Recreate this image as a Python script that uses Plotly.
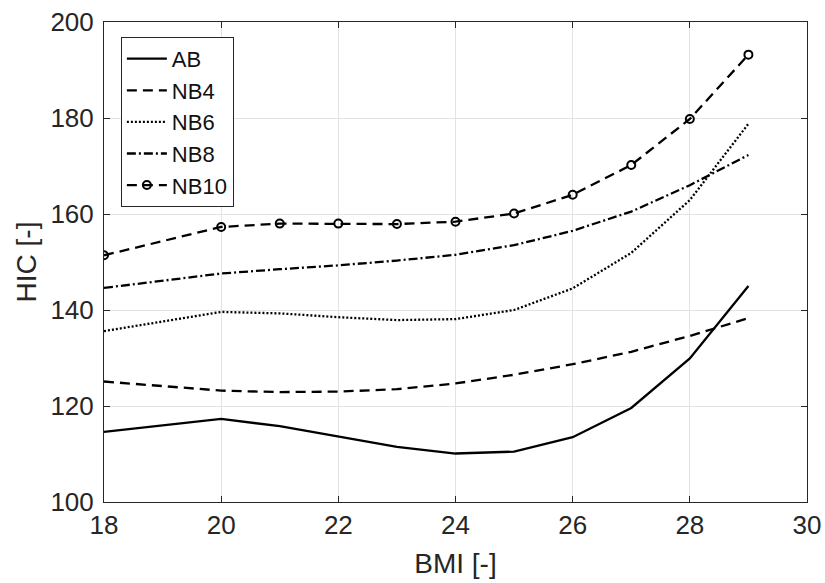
import plotly.graph_objects as go

bmi = [18, 20, 21, 22, 23, 24, 25, 26, 27, 28, 29]
ab = [114.6, 117.3, 115.8, 113.6, 111.5, 110.1, 110.5, 113.5, 119.6, 129.9, 145.0]
nb4 = [125.1, 123.2, 122.9, 123.0, 123.5, 124.7, 126.5, 128.7, 131.3, 134.6, 138.3]
nb6 = [135.6, 139.6, 139.3, 138.5, 137.9, 138.1, 140.0, 144.5, 151.9, 162.9, 178.8]
nb8 = [144.6, 147.6, 148.5, 149.3, 150.3, 151.5, 153.5, 156.5, 160.5, 166.0, 172.3]
nb10 = [151.4, 157.3, 158.0, 158.0, 157.9, 158.4, 160.1, 164.0, 170.2, 179.8, 193.2]

series = [
    ("AB", ab, "solid", False),
    ("NB4", nb4, "10px,6px", False),
    ("NB6", nb6, "2px,2px", False),
    ("NB8", nb8, "9px,3px,2px,3px", False),
    ("NB10", nb10, "10px,6px", True),
]

fig = go.Figure()
for name, vals, dash, mk in series:
    fig.add_trace(go.Scatter(
        x=bmi, y=vals, name=name,
        mode="lines+markers" if mk else "lines",
        line=dict(color="black", width=2.3, dash=dash),
        marker=dict(symbol="circle-open", size=8, color="black", line=dict(width=2, color="black")),
    ))

axis_common = dict(
    showgrid=True, gridcolor="#e3e3e3", gridwidth=1,
    showline=True, linecolor="#262626", linewidth=1, mirror="ticks",
    ticks="inside", ticklen=6, tickcolor="#262626",
    tickfont=dict(size=26, color="#262626"), zeroline=False,
    automargin=False, ticklabeloverflow="allow",
)

fig.update_layout(
    width=825, height=583,
    margin=dict(l=104, r=18, t=22, b=81),
    paper_bgcolor="white", plot_bgcolor="white",
    font=dict(family="Arial, Liberation Sans, sans-serif", color="#262626"),
    xaxis=dict(range=[18, 30], dtick=2, title=dict(text="BMI [-]", font=dict(size=28), standoff=14), **axis_common),
    yaxis=dict(range=[100, 200], dtick=20, ticklabelstandoff=4, title=dict(text="HIC [-]", font=dict(size=28), standoff=5), **axis_common),
    legend=dict(
        x=0.024, y=0.969, xanchor="left", yanchor="top",
        bgcolor="white", bordercolor="#262626", borderwidth=1,
        font=dict(size=22, color="#111111"), tracegroupgap=0, itemwidth=40,
    ),
    showlegend=True,
)

fig.write_html(
    "out.html",
    config={"displayModeBar": False},
    post_script="document.body.style.margin='0px';document.body.style.overflow='hidden';",
)
